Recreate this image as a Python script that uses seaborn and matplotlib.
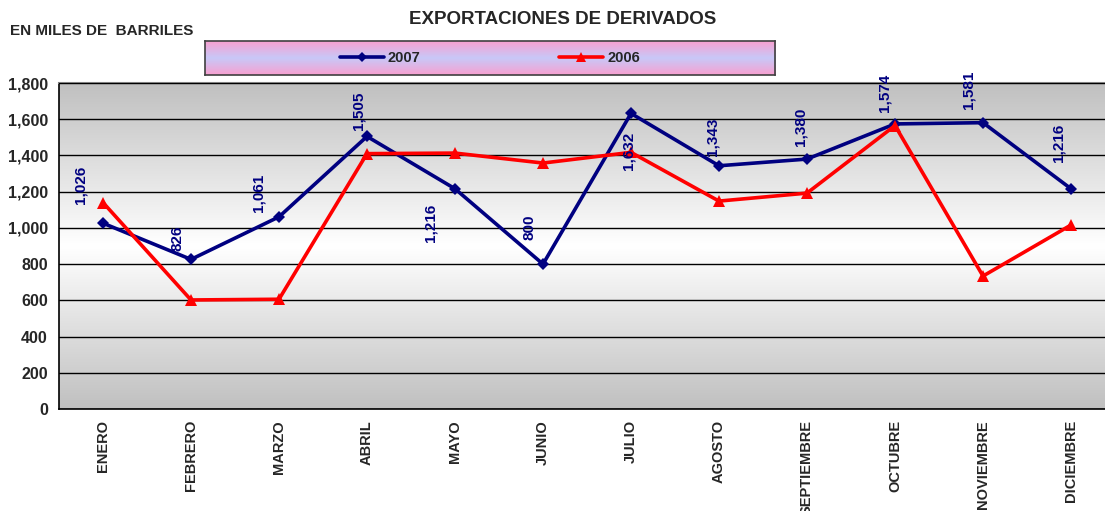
import matplotlib.pyplot as plt
import matplotlib.ticker as mticker
from matplotlib.colors import LinearSegmentedColormap
import seaborn as sns
import pandas as pd
import numpy as np

# data
months = ["ENERO", "FEBRERO", "MARZO", "ABRIL", "MAYO", "JUNIO", "JULIO",
          "AGOSTO", "SEPTIEMBRE", "OCTUBRE", "NOVIEMBRE", "DICIEMBRE"]
exp_2007 = [1026, 826, 1061, 1505, 1216, 800, 1632, 1343, 1380, 1574, 1581, 1216]
exp_2006 = [1140, 602, 606, 1410, 1413, 1358, 1417, 1148, 1192, 1565, 734, 1016]

# label placement (pixels, relative to point) - mimics the Excel layout
label_offsets = [(-23, 38), (-13, 21), (-21, 24), (-9, 26), (-25, -34), (-14, 37),
                 (-2, -37), (-6, 29), (-7, 32), (-10, 31), (-14, 33), (-12, 46)]

df = pd.DataFrame({
    "mes": months * 2,
    "valor": exp_2007 + exp_2006,
    "serie": ["2007"] * 12 + ["2006"] * 12,
})

sns.set_style("white")
plt.rcParams["font.family"] = ["Liberation Sans", "DejaVu Sans"]

W, H = 1105, 511
fig = plt.figure(figsize=(W / 100, H / 100), dpi=100)
ax = fig.add_axes([59 / W, (H - 409) / H, (1115 - 59) / W, (409 - 83) / H])

# gray-white-gray background
cmap = LinearSegmentedColormap.from_list("bg", [(0, "#c0c0c0"), (0.5, "#ffffff"), (1, "#c0c0c0")])
grad = np.linspace(0, 1, 256).reshape(-1, 1)
ax.imshow(grad, cmap=cmap, aspect="auto", extent=[0, 1, 0, 1],
          transform=ax.transAxes, zorder=0)

colors = {"2007": "#000080", "2006": "#ff0000"}
sns.lineplot(data=df, x="mes", y="valor", hue="serie", style="serie",
             markers={"2007": "D", "2006": "^"}, dashes=False, palette=colors,
             hue_order=["2007", "2006"], sort=False, linewidth=2.6,
             markersize=7, markeredgewidth=0, ax=ax, legend=False, zorder=3)
for ln in ax.lines:
    if ln.get_marker() == "D":
        ln.set_markersize(6)
    else:
        ln.set_markersize(8)

ax.set_xlim(-0.5, 11.5)
ax.set_ylim(0, 1800)
ax.set_yticks(range(0, 1801, 200))
ax.yaxis.set_major_formatter(mticker.FuncFormatter(lambda v, p: f"{int(v):,}"))
ax.grid(axis="y", color="black", linewidth=1)
ax.set_axisbelow(False)
for gl in ax.get_ygridlines():
    gl.set_zorder(1)
ax.set_xlabel("")
ax.set_ylabel("")

ax.set_xticks(range(12))
ax.set_xticklabels(months, rotation=90, fontsize=10.5, fontweight="bold", va="top")
ax.set_xticks(np.arange(-0.5, 12, 1), minor=True)
ax.tick_params(axis="x", which="major", length=0, pad=8)
ax.tick_params(axis="x", which="minor", length=5, width=1, color="black", direction="out")
ax.tick_params(axis="y", length=5, width=1, color="black", direction="out",
               labelsize=11.5, pad=3)
for lab in ax.get_yticklabels():
    lab.set_fontweight("bold")

for side in ["left", "bottom"]:
    ax.spines[side].set_color("black")
    ax.spines[side].set_linewidth(1.2)
ax.spines["top"].set_color("#808080")
ax.spines["top"].set_linewidth(1.5)
ax.spines["right"].set_visible(False)

for i, (v, off) in enumerate(zip(exp_2007, label_offsets)):
    ax.annotate(f"{v:,}", (i, v), xytext=off, textcoords="offset pixels",
                rotation=90, ha="center", va="center", fontsize=11,
                fontweight="bold", color="#000080", zorder=4)

fig.text(563 / W, 1 - 19 / H, "EXPORTACIONES DE DERIVADOS", ha="center", va="center",
         fontsize=13.5, fontweight="bold")
fig.text(10 / W, 1 - 31 / H, "EN MILES DE  BARRILES", ha="left", va="center",
         fontsize=11, fontweight="bold")

# legend box with pink-lavender gradient
lax = fig.add_axes([205 / W, (H - 75) / H, 570 / W, 34 / H])
lcmap = LinearSegmentedColormap.from_list("lg", [(0, "#f8a0d0"), (0.5, "#c8c8f8"), (1, "#f8a0d0")])
lax.imshow(grad, cmap=lcmap, aspect="auto", extent=[0, 1, 0, 1], transform=lax.transAxes)
lax.set_xticks([])
lax.set_yticks([])
for sp in lax.spines.values():
    sp.set_color("#404040")
    sp.set_linewidth(1.2)
handles = [plt.Line2D([], [], color="#000080", lw=2.6, marker="D", markersize=5, markeredgewidth=0),
           plt.Line2D([], [], color="#ff0000", lw=2.6, marker="^", markersize=7, markeredgewidth=0)]
lax.legend(handles, ["2007", "2006"], ncol=2, loc="center", frameon=False,
           prop={"weight": "bold", "size": 10.5}, handlelength=3.0, handletextpad=0.3,
           columnspacing=9.5)

fig.savefig("out.png", dpi=100)
